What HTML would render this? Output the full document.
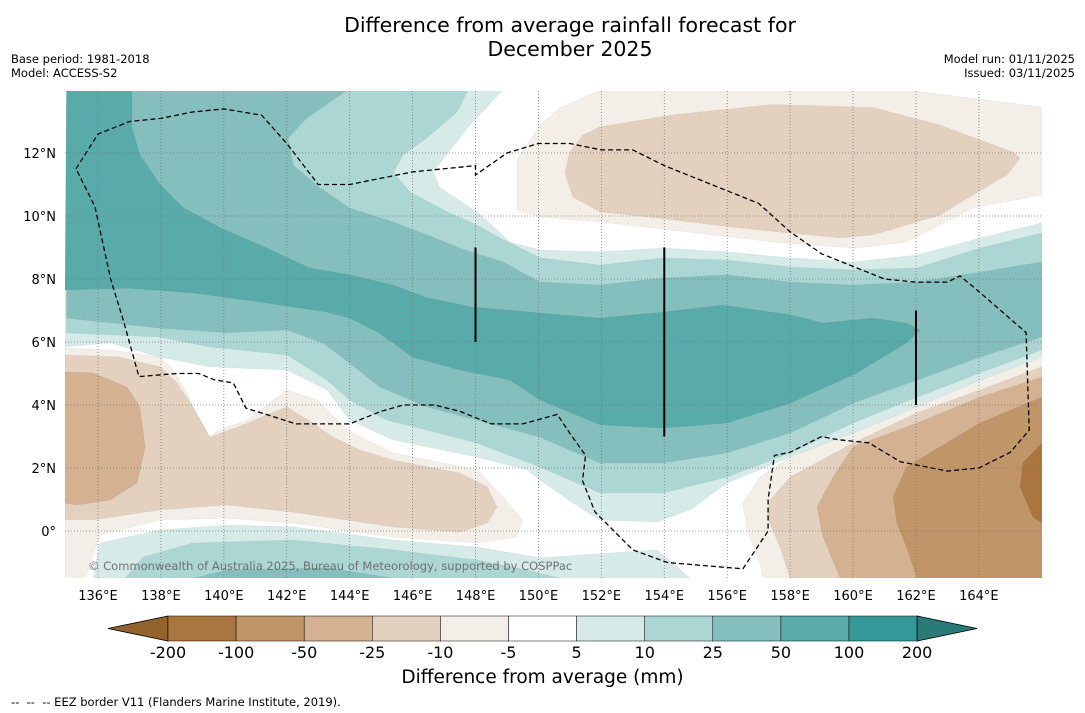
<!DOCTYPE html>
<html><head><meta charset="utf-8">
<style>
body{margin:0;background:#fff;font-family:"DejaVu Sans","Liberation Sans",sans-serif;}
#wrap{position:relative;width:1085px;height:713px;overflow:hidden;background:#fff;}
.t{position:absolute;white-space:nowrap;}
</style></head>
<body>
<div id="wrap">
<div class="t" style="left:0;width:1140px;top:14px;text-align:center;font-size:20.5px;line-height:23.5px;color:#000;">Difference from average rainfall forecast for<br>December 2025</div>
<div class="t" style="left:11px;top:52px;font-size:11.5px;line-height:14px;">Base period: 1981-2018<br>Model: ACCESS-S2</div>
<div class="t" style="right:10px;top:52px;font-size:11.5px;line-height:14px;text-align:right;">Model run: 01/11/2025<br>Issued: 03/11/2025</div>
<svg id="map" width="1085" height="713" style="position:absolute;left:0;top:0;font-family:'DejaVu Sans',sans-serif"></svg>
<div class="t" style="left:0;width:1085px;top:667px;text-align:center;font-size:18.5px;">Difference from average (mm)</div>
<div class="t" style="left:11px;top:695px;font-size:11.5px;">--&nbsp; --&nbsp; -- EEZ border V11 (Flanders Marine Institute, 2019).</div>
</div>
<script>
const lonTicks=[136,138,140,142,144,146,148,150,152,154,156,158,160,162,164];
const latTicks=[0,2,4,6,8,10,12];
const levels=["-200","-100","-50","-25","-10","-5","5","10","25","50","100","200"];
const binColors=["#ab7540","#c09568","#d3b191","#e4d0be","#f3eee7","#ffffff","#d6eae8","#acd6d4","#84bfbd","#59abaa","#35999a"];
const extColors=["#94622d","#2a7a78"];
// contour regions (lon, lat)
const brownL10=[[134.95,5.81],[136.38,5.75],[137.97,5.52],[138.38,5.11],[138.83,4.38],[139.47,2.98],[139.88,3.21],[140.74,3.52],[142.0,4.48],[142.96,4.16],[143.6,3.52],[144.1,3.11],[145.38,2.48],[148.05,1.94],[148.87,1.08],[149.5,0.35],[149.3,-0.19],[148.05,-0.38],[145.38,-0.19],[142.2,0.25],[140.1,0.41],[137.97,0.35],[136.06,-0.13],[135.59,-1.5],[134.95,-1.5]];
const brownL25=[[134.95,5.59],[136.7,5.52],[137.97,5.21],[138.51,4.70],[139.02,3.94],[139.56,2.98],[140.42,3.30],[142.0,3.94],[142.83,3.43],[143.47,2.98],[144.33,2.57],[145.38,2.25],[147.5,1.84],[148.37,1.40],[148.68,0.76],[148.37,0.25],[147.5,-0.03],[145.38,0.13],[142.2,0.6],[140.1,0.83],[137.97,0.67],[135.84,0.35],[134.95,0.35]];
const brownL50=[[134.95,5.05],[135.84,5.02],[136.92,4.57],[137.33,3.94],[137.5,2.67],[137.24,1.52],[136.38,0.98],[135.33,0.83],[134.95,0.89]];
const trL10=[[151.96,14],[161.7,14],[166,13.46],[166,10.67],[163.8,10.25],[161.7,9.17],[160.13,8.98],[157.46,9.17],[154.82,9.49],[151.96,9.81],[150.05,9.97],[149.32,10.19],[149.32,11.78],[150.05,12.89],[150.69,13.43]];
const trL25=[[150.84,11.37],[151.0,12.03],[151.42,12.57],[151.96,12.83],[154.28,13.21],[157.46,13.54],[160.63,13.44],[162.76,12.89],[165.08,12.03],[165.31,11.84],[164.89,11.30],[163.81,10.67],[162.76,10.03],[160.63,9.40],[159.59,9.30],[156.41,9.62],[153.77,9.94],[151.96,10.13],[151.1,10.6]];
const brL10=[[166,5.49],[164.04,4.79],[162.03,4.06],[160,3.11],[158,2.35],[157.04,1.71],[156.5,0.89],[156.63,0.03],[157.04,-1.02],[157.14,-1.5],[166,-1.5]];
const brL25=[[166,5.21],[164.04,4.48],[162.03,3.75],[160,2.79],[158,1.71],[157.36,0.98],[157.27,0.44],[157.68,-0.51],[158,-1.5],[166,-1.5]];
const brL50=[[166,4.89],[164.04,4.25],[162.03,3.43],[160,2.67],[159.36,1.71],[158.85,0.76],[159.05,-0.19],[159.59,-1.5],[166,-1.5]];
const brL100=[[166,4.25],[164.04,3.43],[162.76,2.67],[161.7,2.03],[161.27,1.08],[161.4,0.25],[161.7,-0.51],[162.03,-1.5],[166,-1.5]];
const brL200=[[166,2.79],[165.4,2.16],[165.31,1.40],[165.72,0.44],[166,0.25]];
const tL5=[[135,14],[148.87,14],[147.82,12.89],[146.65,11.40],[146.87,10.89],[148.05,10.13],[149.1,9.17],[150.05,8.92],[151.96,8.86],[153.96,8.98],[155.99,8.86],[158,8.67],[160,8.54],[162.03,8.76],[164.04,9.30],[166,9.78],[166,5.52],[164.04,4.79],[162.03,3.94],[160,3.11],[158,2.35],[155.99,1.52],[154.82,0.67],[153.77,0.29],[151.96,0.35],[151.1,0.89],[150.05,1.62],[149.64,1.94],[148.05,2.35],[145.38,2.89],[144,3.52],[143.28,4.48],[142,5.11],[139.56,5.21],[137.97,5.52],[136.38,5.97],[134.95,5.84]];
const tL10=[[135,14],[147.76,14],[147.41,13.30],[146.46,12.48],[145.7,11.94],[145.38,11.37],[145.92,10.76],[147.1,10.13],[148.05,9.71],[148.78,9.30],[150.05,8.67],[151.96,8.44],[153.96,8.67],[155.99,8.60],[158,8.38],[160,8.29],[162.03,8.35],[164.04,8.98],[166,9.46],[166,5.75],[164.04,5.02],[162.03,4.25],[160,3.43],[158,2.48],[155.99,1.71],[153.96,1.21],[151.96,1.21],[150.05,2.03],[148.05,2.79],[146.46,3.21],[145.18,3.52],[144,4.16],[143.28,4.79],[142,5.59],[139.56,5.84],[137.97,6.16],[135,6.29]];
const tL25=[[135,14],[143.92,14],[142.64,13.11],[142.04,12.48],[142.2,11.62],[143.06,10.89],[144,10.25],[145.38,9.81],[146.46,9.40],[147.5,8.98],[148.87,8.54],[150.05,7.90],[151.96,7.81],[153.96,8.03],[155.99,8.13],[158,7.90],[160,7.81],[162.03,7.90],[164.04,8.22],[166,8.54],[166,6.16],[164.04,5.52],[162.03,4.79],[160,4.06],[158,3.11],[155.99,2.48],[153.96,2.16],[151.96,2.16],[150.05,2.98],[148.05,3.52],[146.46,3.94],[144.96,4.57],[144,5.33],[143.15,5.97],[142,6.38],[140.1,6.3],[137.97,6.44],[135,6.76]];
const tL50=[[135,14],[137.08,14],[137.08,12.79],[137.33,11.94],[137.97,11.0],[138.7,10.27],[139.88,9.63],[141.15,9.08],[142.74,8.35],[143.99,8.13],[145.38,7.81],[146.46,7.40],[147.92,7.11],[150.05,6.92],[151.96,6.76],[153.96,6.95],[155.87,7.17],[158,6.86],[159.05,6.60],[160.63,6.76],[161.7,6.60],[162.13,6.38],[161.7,5.97],[160.13,5.02],[158,4.06],[155.99,3.43],[153.96,3.27],[151.96,3.37],[150.05,4.16],[149.1,4.79],[147.5,5.11],[146.0,5.52],[145.38,5.97],[144.87,6.32],[144,6.76],[143.28,6.95],[141.15,7.27],[139.02,7.56],[136.92,7.71],[134.95,7.65]];
const bL5=[[135.84,-1.5],[136.06,-0.38],[137.97,0.03],[140.1,0.19],[142.2,0.13],[145.38,-0.29],[148.05,-0.51],[150.05,-0.85],[153.77,-0.60],[154.82,-1.5]];
const bL10=[[136.86,-1.5],[137.43,-0.83],[139.02,-0.38],[142.2,-0.29],[145.38,-0.60],[148.05,-0.92],[149.64,-1.24],[150.7,-1.5]];
const bL25=[[139.02,-1.5],[140.1,-1.24],[143.28,-1.17],[145.38,-1.5]];
const regions=[[brownL10,4],[brownL25,3],[brownL50,2],[trL10,4],[trL25,3],[brL10,4],[brL25,3],[brL50,2],[brL100,1],[brL200,0],[tL5,6],[tL10,7],[tL25,8],[tL50,9],[bL5,6],[bL10,7],[bL25,8]];
const eez=[[135.3,11.5],[136,12.6],[137,13],[138,13.1],[139,13.3],[140,13.4],[141.2,13.2],[142,12.3],[143,11],[144,11],[146,11.4],[148,11.6],[148,11.3],[149,12],[150,12.3],[151,12.3],[152,12.1],[153,12.1],[154,11.6],[155.5,11.0],[157,10.4],[158,9.5],[159,8.8],[160,8.4],[161,8.0],[162,7.9],[163,7.9],[163.4,8.1],[164,7.6],[165.5,6.3],[165.6,3.2],[165,2.5],[164,2.0],[163,1.9],[161.5,2.2],[160.5,2.8],[159.5,2.9],[159,3.0],[158,2.5],[157.5,2.4],[157.3,1.0],[157.3,0],[156.5,-1.2],[154.1,-1.0],[153,-0.6],[151.8,0.6],[151.4,1.6],[151.5,2.4],[151,3.1],[150.6,3.7],[149.5,3.4],[148.5,3.4],[147.5,3.8],[146.7,4.0],[145.7,4.0],[145,3.8],[144,3.4],[142.3,3.4],[140.7,3.9],[140.3,4.7],[139.7,4.8],[139.2,5.0],[138.5,5.0],[137.3,4.9],[136.8,6.7],[136.4,8.0],[135.9,10.3],[135.3,11.5]];
const boundaryLines=[[[148,6],[148,9]],[[154,3],[154,9]],[[162,4],[162,7]]];

const NS="http://www.w3.org/2000/svg";
const svg=document.getElementById('map');
const X0=65,X1=1042,Y0=91,Y1=578;
const xs=lon=>98+(lon-136)*31.46;
const ys=lat=>531-lat*31.5;
function mk(tag,attrs,parent){const e=document.createElementNS(NS,tag);for(const k in attrs)e.setAttribute(k,attrs[k]);(parent||svg).appendChild(e);return e;}
const defs=mk('defs',{});
const cp=mk('clipPath',{id:'clip'},defs);
mk('rect',{x:X0,y:Y0,width:X1-X0,height:Y1-Y0},cp);
const g=mk('g',{'clip-path':'url(#clip)'});


mk('rect',{x:X0,y:Y0,width:X1-X0,height:Y1-Y0,fill:'#fff'},g);
regions.forEach(([pts,ci])=>{
  const p=mk('path',{d:'M'+pts.map(q=>xs(q[0]).toFixed(1)+','+ys(q[1]).toFixed(1)).join('L')+'Z',fill:binColors[ci],stroke:'#00000010','stroke-width':0.6},g);
  
  
});
lonTicks.forEach(l=>{
  const ln=mk('line',{x1:xs(l),x2:xs(l),y1:Y0,y2:Y1,stroke:'#777','stroke-width':0.8,'stroke-dasharray':'1,2'},g);
  
  
  const t=mk('text',{x:xs(l),y:600,'text-anchor':'middle','font-size':13,fill:'#000'});
  t.textContent=l+'°E';
  
  
});
latTicks.forEach(l=>{
  const ln=mk('line',{x1:X0,x2:X1,y1:ys(l),y2:ys(l),stroke:'#777','stroke-width':0.8,'stroke-dasharray':'1,2'},g);
  
  
  const t=mk('text',{x:56,y:ys(l)+5,'text-anchor':'end','font-size':13,fill:'#000'});
  t.textContent=l===0?'0°':l+'°N';
  
  
});
const ez=mk('path',{d:'M'+eez.map(q=>xs(q[0]).toFixed(1)+','+ys(q[1]).toFixed(1)).join('L'),fill:'none',stroke:'#000','stroke-width':1.3,'stroke-dasharray':'5,3'},g);


boundaryLines.forEach(b=>{
  const ln=mk('line',{x1:xs(b[0][0]),y1:ys(b[0][1]),x2:xs(b[1][0]),y2:ys(b[1][1]),stroke:'#000','stroke-width':2},g);
  
  
});
const cr=mk('text',{x:88,y:570,'font-size':11.5,fill:'#666','fill-opacity':0.9},g);
cr.textContent='© Commonwealth of Australia 2025, Bureau of Meteorology, supported by COSPPac';



// colorbar
const CB0=168,CBW=68.1,CBY=616,CBH=25;
const cb=mk('g',{});


const lt=mk('polygon',{points:`${CB0},${CBY} ${CB0},${CBY+CBH} 108,${CBY+CBH/2}`,fill:extColors[0],stroke:'#000','stroke-width':0.8},cb);


binColors.forEach((c,i)=>{
  const r=mk('rect',{x:CB0+i*CBW,y:CBY,width:CBW,height:CBH,fill:c,stroke:'#000','stroke-width':0.5},cb);
  
  
});
const xe=CB0+binColors.length*CBW;
const rt=mk('polygon',{points:`${xe},${CBY} ${xe},${CBY+CBH} ${xe+60},${CBY+CBH/2}`,fill:extColors[1],stroke:'#000','stroke-width':0.8},cb);


levels.forEach((lv,i)=>{
  const t=mk('text',{x:CB0+i*CBW,y:658,'text-anchor':'middle','font-size':16,fill:'#000'},cb);
  t.textContent=lv;
  
  
});
</script>
</body></html>
